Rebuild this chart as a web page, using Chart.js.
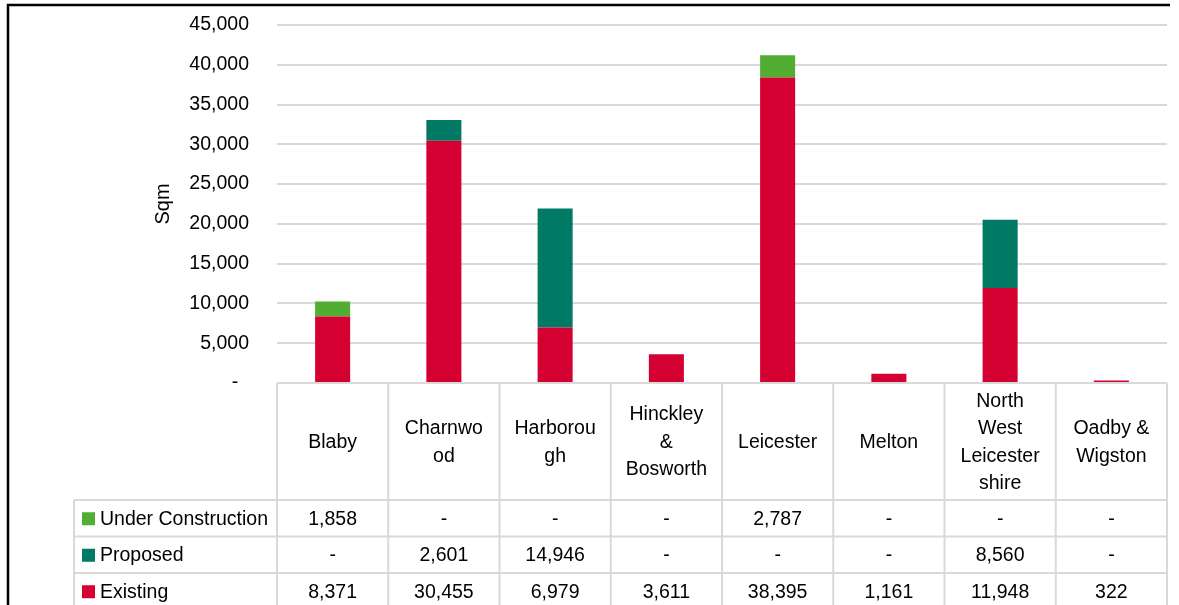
<!DOCTYPE html>
<html>
<head>
<meta charset="utf-8">
<title>Floorspace by district (Sqm)</title>
<script src="https://cdn.jsdelivr.net/npm/chart.js@4.4.1/dist/chart.umd.min.js"></script>
<style>
  html, body { margin: 0; padding: 0; background: #fff; }
  #wrap { width: 1179px; height: 605px; position: relative; overflow: hidden; }
</style>
</head>
<body>
<div id="wrap"><canvas id="chart" width="1179" height="605"></canvas></div>
<script>
// Categories (line breaks kept as in the original table)
const categories = [
  ['Blaby'],
  ['Charnwo', 'od'],
  ['Harborou', 'gh'],
  ['Hinckley', '&', 'Bosworth'],
  ['Leicester'],
  ['Melton'],
  ['North', 'West', 'Leicester', 'shire'],
  ['Oadby &', 'Wigston'],
];

const existing          = [8371, 30455, 6979, 3611, 38395, 1161, 11948, 322];
const proposed          = [0, 2601, 14946, 0, 0, 0, 8560, 0];
const underConstruction = [1858, 0, 0, 0, 2787, 0, 0, 0];

const yTicks = [0, 5000, 10000, 15000, 20000, 25000, 30000, 35000, 40000, 45000];

const RED   = '#D50032';
const TEAL  = '#007A64';
const GREEN = '#52AE32';
const GRID  = '#d9d9d9';
const FONT  = '"Liberation Sans", Arial, sans-serif';
const FS    = 19.5;

// wanted plot box (pixels on the 1179x605 canvas)
const PLOT = { left: 277, top: 25, right: 1167, bottom: 383 };

const fmt = v => v === 0 ? '-' : v.toLocaleString('en-US');

// Data table under the plot + outer frame
const tablePlugin = {
  id: 'dataTable',
  afterDraw(chart) {
    const { ctx, chartArea } = chart;
    const x = chart.scales.x;
    const colW = x.getPixelForValue(1) - x.getPixelForValue(0);
    const left = chartArea.left;
    const right = chartArea.right;
    const top = chartArea.bottom;
    const headBottom = 500;
    const rowH = 36.5;
    const legendLeft = 74;

    // table rows, top to bottom (reverse of stacking order)
    const rows = chart.data.datasets.slice().reverse();

    ctx.save();
    ctx.strokeStyle = GRID;
    ctx.lineWidth = 2;
    ctx.beginPath();
    ctx.moveTo(left, top); ctx.lineTo(right, top);
    for (let r = 0; r <= rows.length; r++) {
      const y = headBottom + r * rowH;
      ctx.moveTo(legendLeft, y); ctx.lineTo(right, y);
    }
    for (let i = 0; i <= categories.length; i++) {
      const cx = x.getPixelForValue(0) - colW / 2 + i * colW;
      ctx.moveTo(cx, top); ctx.lineTo(cx, chart.height);
    }
    ctx.moveTo(legendLeft, headBottom); ctx.lineTo(legendLeft, chart.height);
    ctx.stroke();

    ctx.fillStyle = '#000';
    ctx.font = `${FS}px ${FONT}`;
    ctx.textAlign = 'center';
    ctx.textBaseline = 'middle';

    // category header cells
    const lineH = 27.5;
    const headMid = (top + headBottom) / 2 + 1;
    categories.forEach((lines, i) => {
      const cx = x.getPixelForValue(i);
      const y0 = headMid - (lines.length - 1) * lineH / 2;
      lines.forEach((t, k) => ctx.fillText(t, cx, y0 + k * lineH));
    });

    // value rows with legend keys
    rows.forEach((ds, r) => {
      const yMid = headBottom + r * rowH + rowH / 2 + 1;
      ctx.fillStyle = ds.backgroundColor;
      ctx.fillRect(82, yMid - 7, 13, 13);
      ctx.fillStyle = '#000';
      ctx.textAlign = 'left';
      ctx.fillText(ds.label, 100, yMid);
      ctx.textAlign = 'center';
      ds.data.forEach((v, i) => ctx.fillText(fmt(v), x.getPixelForValue(i), yMid));
    });

    // outer frame (top and left edges)
    ctx.strokeStyle = '#000';
    ctx.lineWidth = 2.5;
    ctx.beginPath();
    ctx.moveTo(8, chart.height); ctx.lineTo(8, 5); ctx.lineTo(1170, 5);
    ctx.stroke();
    ctx.restore();
  },
};

new Chart(document.getElementById('chart'), {
  type: 'bar',
  data: {
    labels: categories.map(c => c.join(' ')),
    datasets: [
      { label: 'Existing', data: existing, backgroundColor: RED },
      { label: 'Proposed', data: proposed, backgroundColor: TEAL },
      { label: 'Under Construction', data: underConstruction, backgroundColor: GREEN },
    ],
  },
  options: {
    responsive: false,
    animation: false,
    layout: { padding: { top: 0, right: 1179 - PLOT.right, bottom: 605 - PLOT.bottom, left: 0 } },
    datasets: { bar: { categoryPercentage: 1, barPercentage: 0.315 } },
    plugins: { legend: { display: false }, tooltip: { enabled: false } },
    scales: {
      x: { display: false, stacked: true },
      y: {
        stacked: true,
        min: 0,
        max: 45000,
        afterFit: s => { s.width = PLOT.left; s.paddingTop = PLOT.top; s.paddingBottom = 0; },
        afterBuildTicks: s => { s.ticks = yTicks.map(v => ({ value: v })); },
        border: { display: false },
        grid: { color: GRID, lineWidth: 2, drawTicks: false },
        ticks: {
          padding: 28,
          color: '#000',
          font: { family: FONT, size: FS },
          callback: v => v === 0 ? '-  ' : v.toLocaleString('en-US'),
        },
        title: {
          display: true,
          text: 'Sqm',
          color: '#000',
          font: { family: FONT, size: 20 },
          padding: { top: 151, bottom: 0 },
        },
      },
    },
  },
  plugins: [tablePlugin],
});
</script>
</body>
</html>
